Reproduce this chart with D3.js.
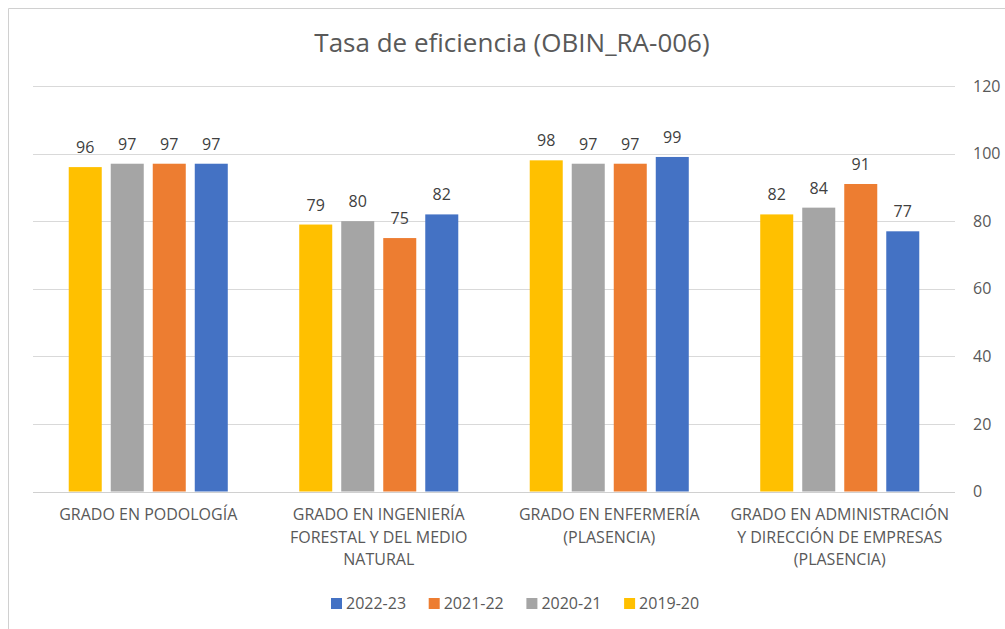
<!DOCTYPE html>
<html>
<head>
<meta charset="utf-8">
<script src="https://cdn.jsdelivr.net/npm/d3@7"></script>
<style>
  body { margin: 0; background: #fff; }
  svg { display: block; font-family: "Open Sans", "DejaVu Sans", sans-serif; }
</style>
</head>
<body>
<svg id="chart" width="1005" height="629"></svg>
<script>
// data
var categories = [
  ['GRADO EN PODOLOGÍA'],
  ['GRADO EN INGENIERÍA', 'FORESTAL Y DEL MEDIO', 'NATURAL'],
  ['GRADO EN ENFERMERÍA', '(PLASENCIA)'],
  ['GRADO EN ADMINISTRACIÓN', 'Y DIRECCIÓN DE EMPRESAS', '(PLASENCIA)']
];
var seriesNames = ['2019-20', '2020-21', '2021-22', '2022-23'];
var values2019 = [96, 79, 98, 82];
var values2020 = [97, 80, 97, 84];
var values2021 = [97, 75, 97, 91];
var values2022 = [97, 82, 99, 77];
var legendOrder = ['2022-23', '2021-22', '2020-21', '2019-20'];
var yTicks = [0, 20, 40, 60, 80, 100, 120];

var colours = {
  '2019-20': '#FFC000',
  '2020-21': '#A5A5A5',
  '2021-22': '#ED7D31',
  '2022-23': '#4472C4'
};

var seriesValues = [values2019, values2020, values2021, values2022];
var catKeys = categories.map(function(d) { return d.join(' '); });

var svg = d3.select('#chart');

// chart frame (only top and left edges show in the crop)
svg.append('path')
    .attr('d', 'M8.5,629 V8.5 H1005')
    .attr('fill', 'none')
    .attr('stroke', '#d0d0d0')
    .attr('stroke-width', 1);

// Title
svg.append('text')
    .attr('x', 512)
    .attr('y', 52)
    .attr('text-anchor', 'middle')
    .style('font-size', '26px')
    .style('fill', '#595959')
    .text('Tasa de eficiencia (OBIN_RA-006)');

var plotLeft = 33, plotRight = 955, plotTop = 86, plotBottom = 491.5;

var x0 = d3.scaleBand()
    .domain(catKeys)
    .range([plotLeft, plotRight])
    .paddingInner(0.31)
    .paddingOuter(0.155);

var x1 = d3.scaleBand()
    .domain(seriesNames)
    .range([0, x0.bandwidth()])
    .paddingInner(9 / 42);

var y = d3.scaleLinear()
    .domain([0, 120])
    .range([plotBottom, plotTop]);

// gridlines
svg.append('g')
    .selectAll('line')
    .data(yTicks)
    .enter().append('line')
    .attr('x1', plotLeft)
    .attr('x2', plotRight)
    .attr('y1', function(d) { return Math.round(y(d)) + 0.5; })
    .attr('y2', function(d) { return Math.round(y(d)) + 0.5; })
    .attr('stroke', function(d) { return d === 0 ? '#d0d0d0' : '#d9d9d9'; })
    .attr('stroke-width', 1);

// right axis labels
var yAxis = d3.axisRight(y).tickValues(yTicks).tickSize(0).tickPadding(18);
var axisG = svg.append('g')
    .attr('transform', 'translate(' + plotRight + ',0)')
    .call(yAxis);
axisG.select('.domain').remove();
axisG.selectAll('text')
    .style('font-family', '"Open Sans", sans-serif')
    .style('font-size', '16px')
    .style('fill', '#595959');

// bars
var groups = svg.append('g')
    .selectAll('g')
    .data(catKeys)
    .enter().append('g')
    .attr('transform', function(d) { return 'translate(' + x0(d) + ',0)'; });

groups.selectAll('rect')
    .data(function(d, i) {
        return seriesNames.map(function(s, j) { return { series: s, value: seriesValues[j][i] }; });
    })
    .enter().append('rect')
    .attr('x', function(d) { return x1(d.series); })
    .attr('y', function(d) { return y(d.value); })
    .attr('width', x1.bandwidth())
    .attr('height', function(d) { return y(0) - y(d.value); })
    .style('fill', function(d) { return colours[d.series]; });

// data labels
groups.selectAll('text.val')
    .data(function(d, i) {
        return seriesNames.map(function(s, j) { return { series: s, value: seriesValues[j][i] }; });
    })
    .enter().append('text')
    .attr('class', 'val')
    .attr('x', function(d) { return x1(d.series) + x1.bandwidth() / 2; })
    .attr('y', function(d) { return y(d.value) - 14; })
    .attr('text-anchor', 'middle')
    .style('font-size', '16px')
    .style('fill', '#404040')
    .text(function(d) { return d.value; });

// category labels
var catLabels = svg.append('g')
    .selectAll('text')
    .data(categories)
    .enter().append('text')
    .attr('text-anchor', 'middle')
    .attr('x', function(d, i) { return x0(catKeys[i]) + x0.bandwidth() / 2; })
    .attr('y', 520)
    .style('font-size', '16px')
    .style('fill', '#595959');

catLabels.selectAll('tspan')
    .data(function(d) { return d; })
    .enter().append('tspan')
    .attr('x', function() { return d3.select(this.parentNode).attr('x'); })
    .attr('dy', function(d, i) { return i === 0 ? 0 : 22.5; })
    .text(function(d) { return d; });

// legend
var legend = svg.append('g')
    .selectAll('g')
    .data(legendOrder)
    .enter().append('g')
    .attr('transform', function(d, i) { return 'translate(' + (331 + i * 97.7) + ',598)'; });

legend.append('rect')
    .attr('width', 11)
    .attr('height', 11)
    .style('fill', function(d) { return colours[d]; });

legend.append('text')
    .attr('x', 15)
    .attr('y', 11)
    .style('font-size', '16px')
    .style('fill', '#595959')
    .text(function(d) { return d; });
</script>
</body>
</html>
